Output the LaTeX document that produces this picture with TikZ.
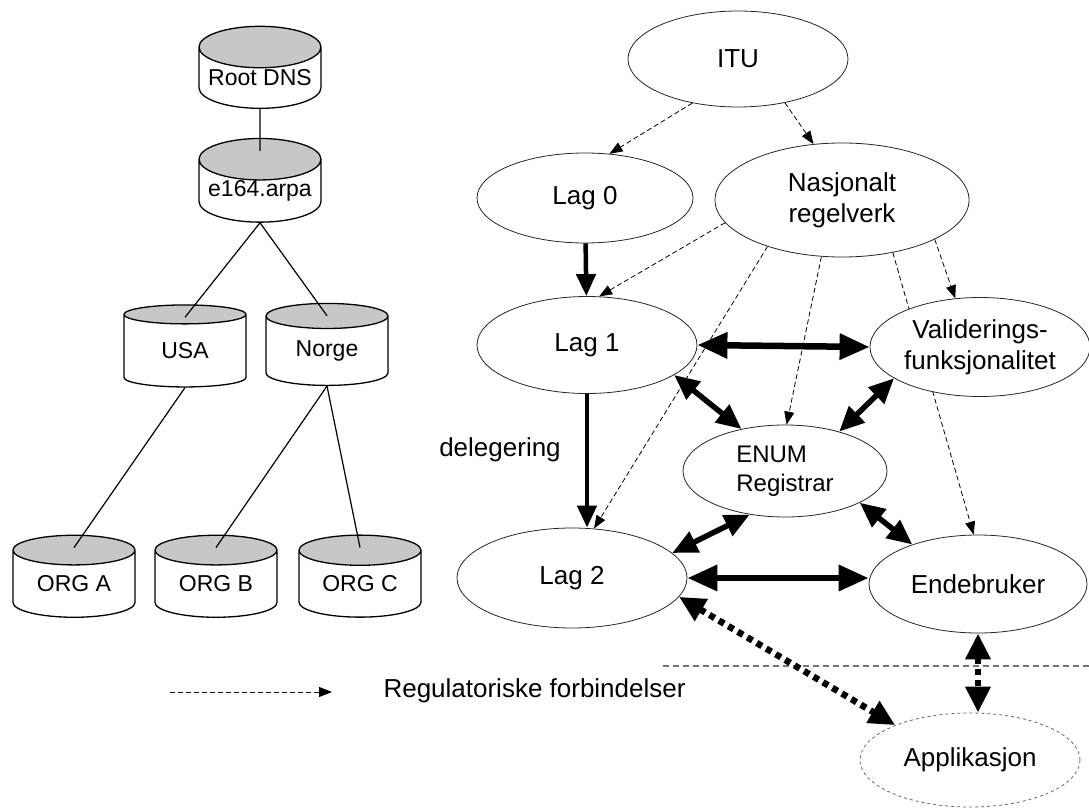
\documentclass[tikz,border=0pt]{standalone}
\usepackage{fontspec}
\setmainfont{Liberation Sans}
\usetikzlibrary{shapes.geometric}
\usetikzlibrary{arrows.meta}
\usetikzlibrary{backgrounds}
\tikzstyle{db} = [cylinder, shape border rotate=90, aspect=0.4, draw, line width=1.3pt, minimum width=122pt, minimum height=82pt, inner sep=0pt, cylinder uses custom fill, cylinder end fill=black!22, cylinder body fill=white, font=\fontsize{23}{26}\selectfont]
\tikzstyle{unit} = [ellipse, draw=black!85, line width=0.8pt, fill=white, inner sep=0pt, align=center, font=\fontsize{26}{31}\selectfont]
\tikzstyle{reg} = [dash pattern=on 5pt off 3pt, line width=0.8pt, -{Triangle[length=13pt,width=10pt]}]
\tikzstyle{deleg} = [line width=4.5pt, -{Triangle[length=22pt,width=19pt]}]
\tikzstyle{dual} = [line width=5.5pt, {Triangle[length=25pt,width=22pt]}-{Triangle[length=25pt,width=22pt]}]
\tikzstyle{wide} = [line width=6.5pt, {Triangle[length=30pt,width=25pt]}-{Triangle[length=30pt,width=25pt]}]
\tikzstyle{dots} = [line width=6.5pt, dash pattern=on 6pt off 5pt, {Triangle[length=26pt,width=24pt]}-{Triangle[length=26pt,width=24pt]}]

\begin{document}
\begin{tikzpicture}[x=1pt, y=-1pt]
        \useasboundingbox (0,0) rectangle (1089,810);

        % DNS tree
        \node[db] (root) at (260,78) {Root DNS};
        \node[db] (arpa) at (260,191) {e164.arpa};
        \node[db] (usa) at (185,351) {USA};
        \node[db] (norge) at (327,351) {Norge};
        \node[db] (orga) at (74,584) {ORG A};
        \node[db] (orgb) at (216,584) {ORG B};
        \node[db] (orgc) at (360,584) {ORG C};

        \draw[line width=1.2pt] (root.south) -- ([yshift=-13pt]arpa.north);
        \draw[line width=1.2pt] (arpa.south) -- ([yshift=-13pt]usa.north);
        \draw[line width=1.2pt] (arpa.south) -- ([yshift=-13pt]norge.north);
        \draw[line width=1.2pt] (usa.south) -- ([yshift=-13pt]orga.north);
        \draw[line width=1.2pt] (norge.south) -- ([yshift=-13pt]orgb.north);
        \draw[line width=1.2pt] (norge.south) -- ([yshift=-13pt]orgc.north);

        % ENUM roles
        \node[unit, minimum width=220pt, minimum height=96pt] (itu) at (738,59) {ITU};
        \node[unit, minimum width=216pt, minimum height=90pt] (lag0) at (585,198) {Lag 0};
        \node[unit, minimum width=254pt, minimum height=114pt] (nasj) at (842,200) {Nasjonalt\\regelverk};
        \node[unit, minimum width=220pt, minimum height=97pt] (lag1) at (587,345) {Lag 1};
        \node[unit, minimum width=220pt, minimum height=99pt] (valid) at (980,347) {Validerings-\\funksjonalitet};
        \node[unit, minimum width=204pt, minimum height=92pt, align=left, font=\fontsize{24}{29}\selectfont] (enum) at (785,471) {ENUM\\Registrar};
        \node[unit, minimum width=230pt, minimum height=100pt] (lag2) at (572,578) {Lag 2};
        \node[unit, minimum width=218pt, minimum height=98pt] (ende) at (978,584) {Endebruker};
        \node[unit, dashed, draw=black!60, minimum width=220pt, minimum height=94pt] (app) at (970,760) {Applikasjon};

        \node[font=\fontsize{26}{30}\selectfont] (deleg) at (500,450) {delegering};

        % regulatory links
        \begin{scope}[on background layer]
            \draw[reg] (itu.-136) -- (lag0.61);
            \draw[reg] (itu.-43) -- (nasj.117);
            \draw[reg] (nasj.-169) -- (lag1.76);
            \draw[reg] (nasj.-148) -- (lag2.66);
            \draw[reg] (nasj.-110) -- (enum.88);
            \draw[reg] (nasj.-46) -- (ende.95);
            \draw[reg] (nasj.-23) -- (valid.117);
        \end{scope}

        \draw[deleg] (lag0) -- (lag1);
        \draw[deleg] (lag1.south) -- (lag1.south |- lag2.north);
        \draw[wide] (lag1.east) -- (valid.west);
        \draw[dual] (lag1.-19) -- (enum.136);
        \draw[dual] (valid.-160) -- (enum.36);
        \draw[dual] (enum.-129) -- (lag2.14);
        \draw[dual] (enum.-23) -- (ende.149);
        \draw[wide] (lag2.east) -- (lag2.east -| ende.west);

        \draw[black!55, dash pattern=on 6pt off 4pt, line width=1.2pt] (663,666) -- (1089,666);
        \draw[dots] (lag2.-10) -- (app.155);
        \draw[dots] (ende.south) -- (ende.south |- app.north);

        % legend
        \coordinate (lgfrom) at (170,692);
        \coordinate (lgto) at (332,692);
        \draw[reg] (lgfrom) -- (lgto);
        \node[anchor=west, font=\fontsize{26}{30}\selectfont] (lgtext) at (380,691) {Regulatoriske forbindelser};
\end{tikzpicture}
\end{document}
